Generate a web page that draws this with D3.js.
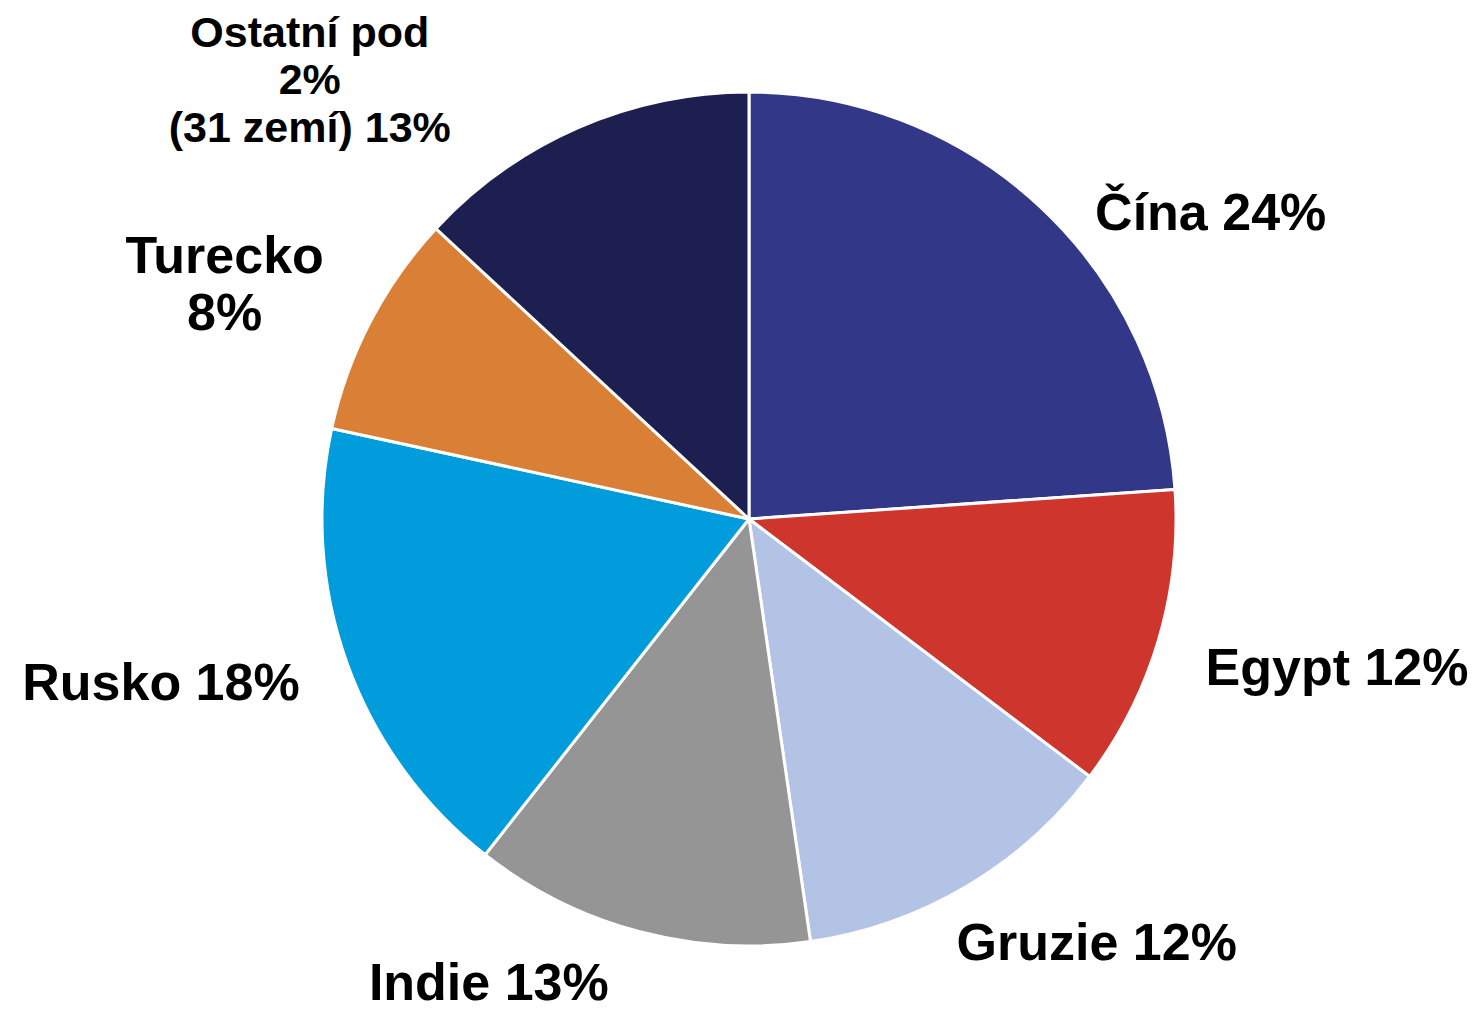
<!DOCTYPE html>
<html>
<head>
<meta charset="utf-8">
<script src="https://cdn.jsdelivr.net/npm/d3@7"></script>
<style>
  html, body { margin: 0; padding: 0; background: #fff; }
  svg { display: block; }
</style>
</head>
<body>
<svg id="chart"></svg>
<script>
// data
const countries = ["Čína", "Egypt", "Gruzie", "Indie", "Rusko", "Turecko", "Ostatní"];
const shares = [23.9, 11.4, 12.4, 12.9, 17.8, 8.5, 13.1];
const labelLines = [
  ["Čína 24%"],
  ["Egypt 12%"],
  ["Gruzie 12%"],
  ["Indie 13%"],
  ["Rusko 18%"],
  ["Turecko", "8%"],
  ["Ostatní pod", "2%", "(31 zemí) 13%"]
];
const colors = ["#333788", "#ce352c", "#b2c3e5", "#959595", "#009cdc", "#d97f36", "#1e1f51"];

const width = 1478;
const height = 1016;
const cx = 749, cy = 519;
const radius = 427;

// label layout: font size, line height, nudges from the outside-end rule
const fontSizes = [52, 52, 52, 52, 52, 52, 43];
const lineHeights = [0, 0, 0, 0, 0, 57, 47.5];
const nudges = [[54, 58], [0, 5], [31, -9], [-105, -21], [-4, -7], [-9, 9], [-190, 59]];
const labelRadius = 482;

const svg = d3.select("#chart")
  .attr("width", width)
  .attr("height", height);

const g = svg.append("g").attr("transform", `translate(${cx},${cy})`);

const pie = d3.pie().sort(null).value(d => d);
const arcs = pie(shares);

const arc = d3.arc().innerRadius(0).outerRadius(radius);

g.selectAll("path.slice")
  .data(arcs)
  .join("path")
  .attr("class", "slice")
  .attr("d", arc)
  .attr("fill", (d, i) => colors[i])
  .attr("stroke", "#fff")
  .attr("stroke-width", 3)
  .attr("stroke-linejoin", "round");

// labels
arcs.forEach((d, i) => {
  const a = (d.startAngle + d.endAngle) / 2;
  const fs = fontSizes[i];
  const lines = labelLines[i];
  const cap = fs * 0.716;

  const t = g.append("text")
    .attr("text-anchor", "middle")
    .attr("font-family", "Liberation Sans, Arial, sans-serif")
    .attr("font-weight", "bold")
    .attr("font-size", fs)
    .attr("fill", "#000");

  const spans = lines.map(s => t.append("tspan").text(s));
  const w = d3.max(spans, s => s.node().getComputedTextLength());
  const h = cap + (lines.length - 1) * lineHeights[i];

  const px = labelRadius * Math.sin(a) + (w / 2) * Math.sin(a) + nudges[i][0];
  const py = -labelRadius * Math.cos(a) - (h / 2) * Math.cos(a) + nudges[i][1];

  const top = py - h / 2;
  spans.forEach((s, k) => {
    s.attr("x", px).attr("y", top + cap + k * lineHeights[i]);
  });
});
</script>
</body>
</html>
